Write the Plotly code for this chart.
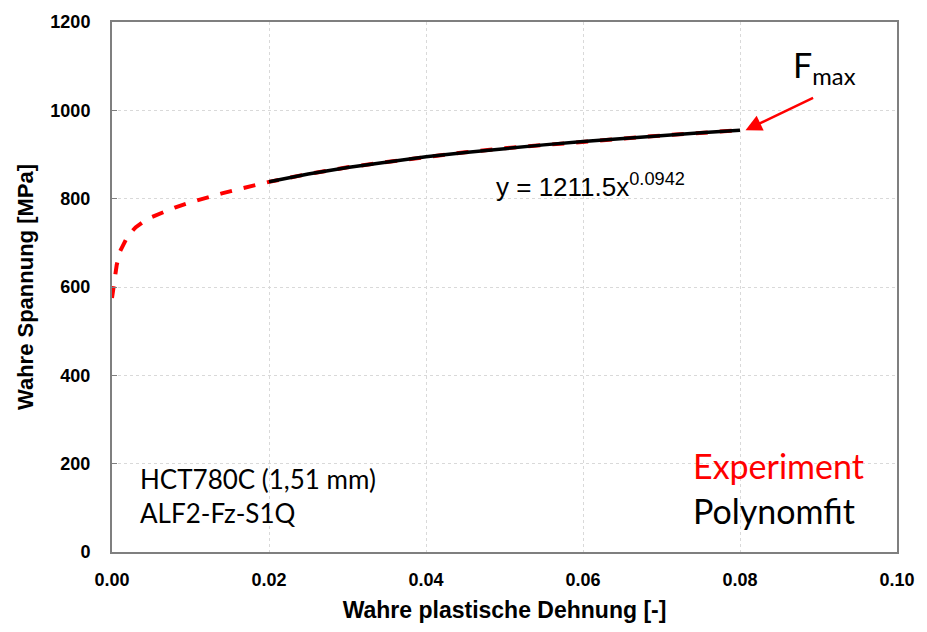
import plotly.graph_objects as go

# Experiment (true plastic strain vs. true stress)
exp_x = [0.0, 0.0003, 0.0006, 0.001, 0.0015, 0.002, 0.003, 0.004, 0.005, 0.006, 0.008,
         0.010, 0.012, 0.014, 0.016, 0.018, 0.020, 0.025, 0.030, 0.035, 0.040, 0.045,
         0.050, 0.055, 0.060, 0.065, 0.070, 0.075, 0.080]
exp_y = [575, 615, 650, 680, 700, 715, 735, 748, 758, 766, 780,
         792, 803, 812, 821, 830, 838, 856, 871, 883, 895, 905,
         914, 922, 929, 936, 943, 949, 955]

# Power-law fit y = 1211.5 x^0.0942
fit_x = [0.020, 0.025, 0.030, 0.035, 0.040, 0.045, 0.050, 0.055, 0.060, 0.065, 0.070, 0.075, 0.080]
fit_y = [838.1, 855.8, 870.7, 883.4, 894.7, 904.6, 913.6, 921.8, 929.4, 936.5, 943.0, 949.2, 954.7]

x_ticks = [0.0, 0.02, 0.04, 0.06, 0.08, 0.10]
x_tick_labels = ["<b>0.00</b>", "<b>0.02</b>", "<b>0.04</b>", "<b>0.06</b>", "<b>0.08</b>", "<b>0.10</b>"]
y_ticks = [0, 200, 400, 600, 800, 1000, 1200]
y_tick_labels = ["<b>0</b>", "<b>200</b>", "<b>400</b>", "<b>600</b>", "<b>800</b>", "<b>1000</b>", "<b>1200</b>"]

fig = go.Figure()
fig.add_trace(go.Scatter(x=exp_x, y=exp_y, mode="lines",
                         line=dict(color="#ff0000", width=4, dash="dash"),
                         name="Experiment", showlegend=False))
fig.add_trace(go.Scatter(x=fit_x, y=fit_y, mode="lines",
                         line=dict(color="#000000", width=3.5),
                         name="Polynomfit", showlegend=False))

arial = "Arial, Liberation Sans, sans-serif"
tick_font = dict(family=arial, size=18, color="#000000")
fig.update_xaxes(range=[0, 0.10], tickvals=x_ticks, ticktext=x_tick_labels,
                 showgrid=True, gridcolor="#d9d9d9", griddash="dot", gridwidth=1,
                 showline=True, linecolor="#7f7f7f", linewidth=2, mirror=True,
                 ticks="", zeroline=False, tickfont=tick_font, ticklabelstandoff=10,
                 title=dict(text="<b>Wahre plastische Dehnung [-]</b>",
                            font=dict(family=arial, size=23, color="#000"),
                            standoff=13))
fig.update_yaxes(range=[0, 1200], tickvals=y_ticks, ticktext=y_tick_labels,
                 showgrid=True, gridcolor="#d9d9d9", griddash="dot", gridwidth=1,
                 showline=True, linecolor="#7f7f7f", linewidth=2, mirror=True,
                 ticks="inside", ticklen=5, tickcolor="#7f7f7f", zeroline=False,
                 tickfont=tick_font, ticklabelstandoff=16,
                 title=dict(text="<b>Wahre Spannung [MPa]</b>",
                            font=dict(family=arial, size=22, color="#000"),
                            standoff=11))

ann_font = "Lato, Open Sans, sans-serif"
fig.add_annotation(x=0.0487, y=829, xref="x", yref="y", xanchor="left", showarrow=False,
                   text="y = 1211.5x<sup>0.0942</sup>",
                   font=dict(family=arial, size=26, color="#000"))
fig.add_annotation(x=0.0865, y=1098, xref="x", yref="y", xanchor="left", showarrow=False,
                   text="F<sub>max</sub>", font=dict(family=ann_font, size=34, color="#000"))
fig.add_annotation(x=0.0807, y=955, ax=0.0895, ay=1030, xref="x", yref="y",
                   axref="x", ayref="y", showarrow=True, arrowhead=2, arrowsize=1.3,
                   arrowwidth=2.5, arrowcolor="#ff0000", text="")
fig.add_annotation(x=0.0033, y=165, xref="x", yref="y", xanchor="left", showarrow=False,
                   text="HCT780C (1,51 mm)", font=dict(family=ann_font, size=26, color="#000"))
fig.add_annotation(x=0.0033, y=88, xref="x", yref="y", xanchor="left", showarrow=False,
                   text="ALF2-Fz-S1Q", font=dict(family=ann_font, size=26, color="#000"))
fig.add_annotation(x=0.0738, y=196, xref="x", yref="y", xanchor="left", showarrow=False,
                   text="Experiment", font=dict(family=ann_font, size=34, color="#ff0000"))
fig.add_annotation(x=0.0738, y=94, xref="x", yref="y", xanchor="left", showarrow=False,
                   text="Polynomfit", font=dict(family=ann_font, size=34, color="#000"))

fig.update_layout(width=927, height=632, paper_bgcolor="white", plot_bgcolor="white",
                  margin=dict(l=112, r=25, t=20, b=80))
fig.write_html("out.html")
